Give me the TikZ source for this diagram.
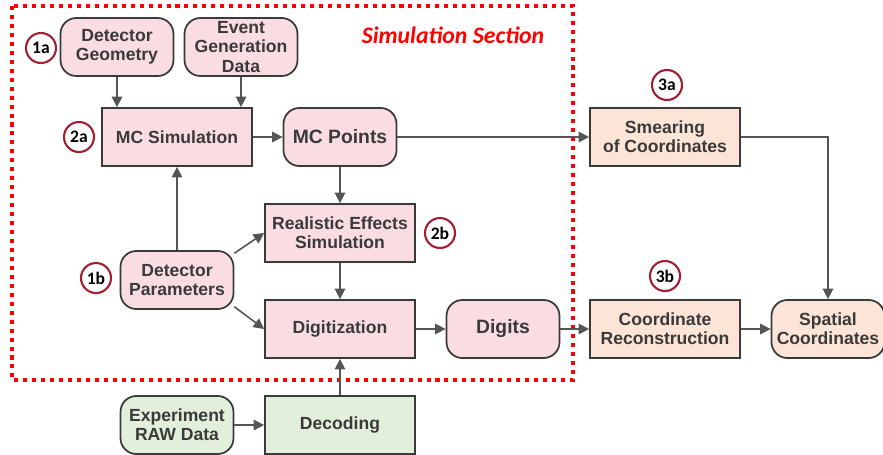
\documentclass[tikz,border=0pt]{standalone}
\usepackage{fontspec}
\setmainfont{Liberation Sans}
\newfontfamily\calibfont{Carlito}
\usepackage{tikz}
\usetikzlibrary{arrows.meta}
\usetikzlibrary{positioning}

\definecolor{simpink}{HTML}{FADDE2}
\definecolor{outpeach}{HTML}{FCE4D6}
\definecolor{rawgreen}{HTML}{E2EFDA}
\definecolor{boxline}{HTML}{3A3A3A}
\definecolor{arrowgray}{HTML}{555555}
\definecolor{tagred}{HTML}{A31F34}

\begin{document}
\begin{tikzpicture}[x=0.02cm, y=-0.02cm,
    every node/.style={font=\bfseries\fontsize{10}{11}\selectfont, text=boxline, align=center},
    procbox/.style={draw=boxline, line width=1pt, minimum width=3cm, minimum height=1.16cm, inner sep=1pt},
    databox/.style={procbox, rounded corners=9pt, minimum width=2.26cm},
    tag/.style={circle, draw=tagred, line width=1.2pt, fill=white, minimum size=0.6cm, inner sep=0pt,
      font=\calibfont\bfseries\fontsize{10}{10}\selectfont, text=black},
    arr/.style={draw=arrowgray, line width=0.9pt, -{Triangle[length=6pt,width=6pt]}}]
  \useasboundingbox (0,0) rectangle (883,454);

  % simulation section frame
  \draw [red, line width=2.3pt, dash pattern=on 2.3pt off 2.8pt] (12,6) rectangle (573,380);
  \node [text=red, font=\calibfont\bfseries\itshape\fontsize{13.5}{14}\selectfont] (simsec) at (453,35) {Simulation Section};

  % inputs
  \node [databox, fill=simpink] (geom) at (117,47) {Detector\\Geometry};
  \node [databox, fill=simpink] (evgen) at (241,47) {Event\\Generation\\Data};
  \node [databox, fill=simpink] (dpar) at (177,280) {Detector\\Parameters};
  \node [databox, fill=rawgreen] (raw) at (177,425) {Experiment\\RAW Data};

  % simulation chain
  \node [procbox, fill=simpink] (mcsim) at (177,137) {MC Simulation};
  \node [databox, fill=simpink, font=\bfseries\fontsize{11}{12}\selectfont] (mcpts) at (340,137) {MC Points};
  \node [procbox, fill=simpink] (real) at (340,233) {Realistic Effects\\Simulation};
  \node [procbox, fill=simpink] (digi) at (340,329) {Digitization};
  \node [databox, fill=simpink, font=\bfseries\fontsize{11}{12}\selectfont] (digits) at (503,329) {Digits};
  \node [procbox, fill=rawgreen] (decod) at (340,425) {Decoding};

  % outputs
  \node [procbox, fill=outpeach] (smear) at (665,137) {Smearing\\of Coordinates};
  \node [procbox, fill=outpeach] (reco) at (665,329) {Coordinate\\Reconstruction};
  \node [databox, fill=outpeach] (spatial) at (828,329) {Spatial\\Coordinates};

  % step tags
  \foreach \name/\pos in {1a/{(41,48)}, 2a/{(79,137)}, 1b/{(96,278)}, 2b/{(440,233)}, 3a/{(667,85)}, 3b/{(665,276)}}{
    \node [tag] (tag\name) at \pos {\name};
  }

  % connectors
  \draw [arr] (geom.south) -- (geom.south |- mcsim.north);
  \draw [arr] (evgen.south) -- (evgen.south |- mcsim.north);
  \draw [arr] (mcsim) -- (mcpts);
  \draw [arr] (mcpts) -- (smear);
  \draw [arr] (mcpts) -- (real);
  \draw [arr] (dpar) -- (mcsim);
  \draw [arr] (dpar.25) -- (real.west);
  \draw [arr] (dpar.-25) -- (digi.west);
  \draw [arr] (real) -- (digi);
  \draw [arr] (digi) -- (digits);
  \draw [arr] (digits) -- (reco);
  \draw [arr] (decod) -- (digi);
  \draw [arr] (raw) -- (decod);
  \draw [arr] (smear.east) -| (spatial.north);
  \draw [arr] (reco) -- (spatial);
\end{tikzpicture}
\end{document}
